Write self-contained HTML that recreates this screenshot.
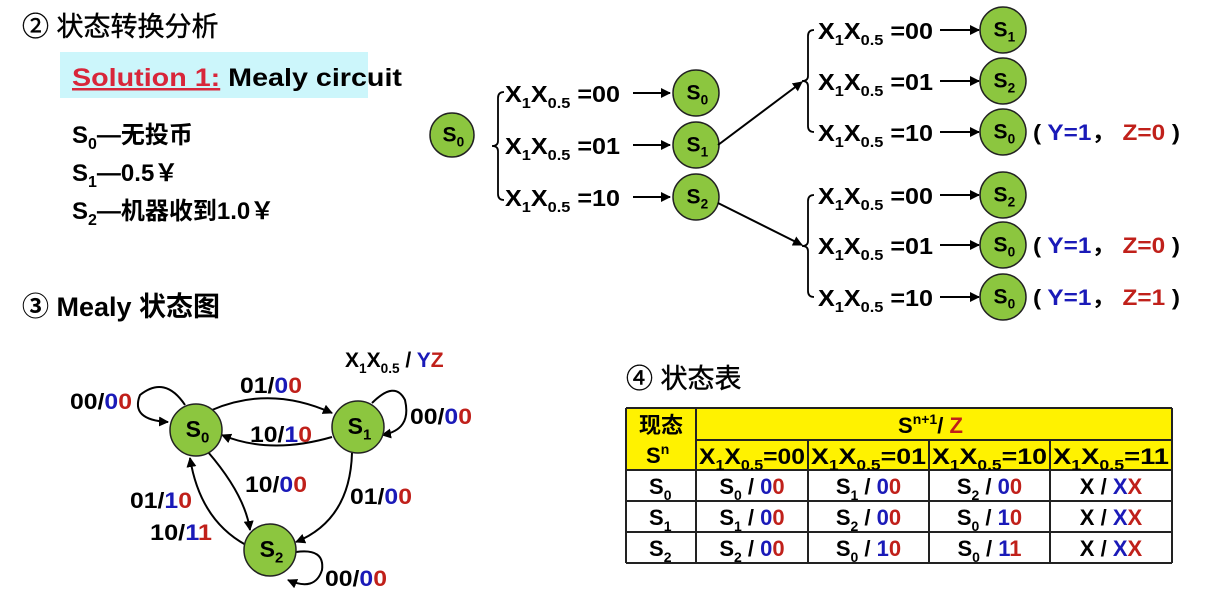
<!DOCTYPE html>
<html><head><meta charset="utf-8"><style>
body{margin:0;background:#fff;}
svg{display:block;font-family:"Liberation Sans","Noto Sans CJK SC",sans-serif;font-weight:bold;}
.b{fill:#1a1ab8}.r{fill:#c0201a}
</style></head><body>
<svg width="1211" height="599" viewBox="0 0 1211 599">
<defs><marker id="ah" viewBox="0 0 10 10" refX="9" refY="5" markerWidth="10" markerHeight="10" orient="auto" markerUnits="userSpaceOnUse"><path d="M0,0L10,5L0,10z" fill="#000"/></marker></defs>

<text x="22" y="36" font-size="27" font-weight="normal" stroke="#000" stroke-width="0.4">② 状态转换分析</text>
<rect x="60" y="52" width="308" height="46" fill="#ccf6fb"/>
<text x="72" y="86" font-size="25" textLength="330" lengthAdjust="spacingAndGlyphs"><tspan fill="#d8263a" text-decoration="underline">Solution 1:</tspan> Mealy circuit</text>
<g font-size="24">
<text x="72" y="143">S<tspan font-size="16" dy="6">0</tspan><tspan dy="-6">—无投币</tspan></text>
<text x="72" y="181">S<tspan font-size="16" dy="6">1</tspan><tspan dy="-6">—0.5￥</tspan></text>
<text x="72" y="219">S<tspan font-size="16" dy="6">2</tspan><tspan dy="-6">—机器收到1.0￥</tspan></text>
</g>
<text x="22" y="316" font-size="27">③ Mealy 状态图</text>
<text x="626" y="388" font-size="27" font-weight="normal" stroke="#000" stroke-width="0.4">④ 状态表</text>

<g id="tree"></g>
<g id="sd"></g>
<g id="tbl"></g>
</svg>
<script>
const NS="http://www.w3.org/2000/svg";
function mk(p,t,a,txt){const e=document.createElementNS(NS,t);for(const k in a)e.setAttribute(k,a[k]);if(txt!==undefined)e.textContent=txt;p.appendChild(e);return e;}
function circ(p,x,y,r,sub,fs){const g=mk(p,'g',{});


mk(g,'circle',{cx:x,cy:y,r:r,fill:'#8cc63f',stroke:'#222','stroke-width':1.5});
const t=mk(g,'text',{x:x-fs*0.45,y:y+fs*0.3,'font-size':fs});mk(t,'tspan',{},'S');mk(t,'tspan',{'font-size':fs*0.65,dy:fs*0.25},sub);}
function xlab(p,x,y,val,fs,len){const a={x:x,y:y,'font-size':fs};if(len){a.textLength=len;a.lengthAdjust='spacingAndGlyphs';}const t=mk(p,'text',a);mk(t,'tspan',{},'X');mk(t,'tspan',{'font-size':fs*0.65,dy:6},'1');mk(t,'tspan',{dy:-6},'X');mk(t,'tspan',{'font-size':fs*0.65,dy:6},'0.5');mk(t,'tspan',{dy:-6},' '+val);return t;}
function brace(p,x,y1,y2){const m=(y1+y2)/2;mk(p,'path',{d:`M${x+6},${y1} q-6,0 -6,6 L${x},${m-5} q0,5 -6,5 q6,0 6,5 L${x},${y2-6} q0,6 6,6`,fill:'none',stroke:'#000','stroke-width':1.8});}
const tree=document.getElementById('tree');
circ(tree,452,135,22,'0',21);
brace(tree,498,92,200);
const inputs=['=00','=01','=10'];
const mid=['0','1','2'];
const ys=[93,145,197];
ys.forEach((y,i)=>{xlab(tree,505,y+9,inputs[i],23,115);mk(tree,'line',{x1:633,y1:y,x2:670,y2:y,stroke:'#000','stroke-width':2,'marker-end':'url(#ah)'});circ(tree,696,y,23,mid[i],21);});
mk(tree,'line',{x1:718,y1:145,x2:802,y2:82,stroke:'#000','stroke-width':2,'marker-end':'url(#ah)'});
mk(tree,'line',{x1:718,y1:203,x2:802,y2:245,stroke:'#000','stroke-width':2,'marker-end':'url(#ah)'});
const rightNext=['1','2','0','2','0','0'];
const rightY=[30,81,132,195,245,297];
const yOut=['','','1','','1','1'];
const zOut=['','','0','','0','1'];
brace(tree,808,30,132);brace(tree,808,195,297);
rightY.forEach((y,i)=>{xlab(tree,818,y+9,inputs[i%3],23,115);mk(tree,'line',{x1:940,y1:y,x2:979,y2:y,stroke:'#000','stroke-width':2,'marker-end':'url(#ah)'});circ(tree,1003,y,23,rightNext[i],21);
if(yOut[i]){const t=mk(tree,'text',{x:1033,y:y+8,'font-size':22,textLength:147,lengthAdjust:'spacingAndGlyphs'});mk(t,'tspan',{},'( ');mk(t,'tspan',{class:'b'},'Y='+yOut[i]);mk(t,'tspan',{},'， ');mk(t,'tspan',{class:'r'},'Z='+zOut[i]);mk(t,'tspan',{},' )');}});

// state diagram
const sd=document.getElementById('sd');
function lab(x,y,a,b){const t=mk(sd,'text',{x:x,y:y,'font-size':22,textLength:62,lengthAdjust:'spacingAndGlyphs'});mk(t,'tspan',{},a+'/');mk(t,'tspan',{class:'b'},b[0]);mk(t,'tspan',{class:'r'},b[1]);}
const P={s0:[196,430],s1:[358,427],s2:[270,550]};
const A={stroke:'#000','stroke-width':2,fill:'none','marker-end':'url(#ah)'};
mk(sd,'path',Object.assign({d:'M212,410 Q270,385 332,413'},A));
mk(sd,'path',Object.assign({d:'M332,437 Q270,455 222,435'},A));
mk(sd,'path',Object.assign({d:'M208,452 Q245,495 250,530'},A));
mk(sd,'path',Object.assign({d:'M352,453 Q350,520 296,542'},A));
mk(sd,'path',Object.assign({d:'M246,545 Q200,520 190,458'},A));
mk(sd,'path',Object.assign({d:'M185,405 Q165,375 140,395 Q130,420 168,422'},A));
mk(sd,'path',Object.assign({d:'M372,403 Q395,380 405,400 Q412,430 382,435'},A));
mk(sd,'path',Object.assign({d:'M296,552 Q325,548 322,570 Q315,592 288,580'},A));
Object.keys(P).forEach((k,i)=>circ(sd,P[k][0],P[k][1],26,String(i),23));
lab(240,393,'01','00');lab(70,409,'00','00');lab(410,424,'00','00');lab(250,442,'10','10');
lab(245,492,'10','00');lab(350,504,'01','00');lab(130,508,'01','10');lab(150,540,'10','11');lab(325,586,'00','00');
{const t=xlab(sd,345,367,'',21);t.lastChild.textContent=' / ';mk(t,'tspan',{class:'b'},'Y');mk(t,'tspan',{class:'r'},'Z');}

// table
const tbl=document.getElementById('tbl');
const colX=[626,696,808,929,1050,1172];
const rowY=[408,440,470,501,532,563];
const colIn=['=00','=01','=10','=11'];
const nextS=[['0','1','2','X'],['1','2','0','X'],['2','0','0','X']];
const outYZ=[['00','00','00','XX'],['00','00','10','XX'],['00','10','11','XX']];
mk(tbl,'rect',{x:626,y:408,width:546,height:62,fill:'#fff200'});
for(let r=0;r<5;r++)mk(tbl,'line',{x1:(r==1?696:626),y1:rowY[r],x2:1172,y2:rowY[r],stroke:'#222','stroke-width':2});
mk(tbl,'line',{x1:626,y1:563,x2:1172,y2:563,stroke:'#222','stroke-width':2});
colX.forEach((x,i)=>mk(tbl,'line',{x1:x,y1:(i>1&&i<5?440:408),x2:x,y2:563,stroke:'#222','stroke-width':2}));
mk(tbl,'text',{x:661,y:433,'font-size':22,'text-anchor':'middle'},'现态');
{const t=mk(tbl,'text',{x:646,y:463,'font-size':22});mk(t,'tspan',{},'S');mk(t,'tspan',{'font-size':14,dy:-9},'n');}
{const t=mk(tbl,'text',{x:898,y:433,'font-size':22});mk(t,'tspan',{},'S');mk(t,'tspan',{'font-size':14,dy:-9},'n+1');mk(t,'tspan',{dy:9},'/ ');mk(t,'tspan',{class:'r'},'Z');}
colIn.forEach((v,i)=>{const w=colX[i+2]-colX[i+1];const t=xlab(tbl,colX[i+1]+3,464,'',22,w-6);t.lastChild.textContent=v;});
for(let r=0;r<3;r++){const cy=rowY[r+2]+24;
{const t=mk(tbl,'text',{x:649,y:cy,'font-size':22});mk(t,'tspan',{},'S');mk(t,'tspan',{'font-size':14,dy:6},String(r));}
for(let c=0;c<4;c++){const cx=(colX[c+1]+colX[c+2])/2;const t=mk(tbl,'text',{x:cx,y:cy,'font-size':22,'text-anchor':'middle'});
if(nextS[r][c]==='X'){mk(t,'tspan',{},'X / ');}else{mk(t,'tspan',{},'S');mk(t,'tspan',{'font-size':14,dy:6},nextS[r][c]);mk(t,'tspan',{dy:-6},' / ');}
mk(t,'tspan',{class:'b'},outYZ[r][c][0]);mk(t,'tspan',{class:'r'},outYZ[r][c][1]);}}
</script>
</body></html>
